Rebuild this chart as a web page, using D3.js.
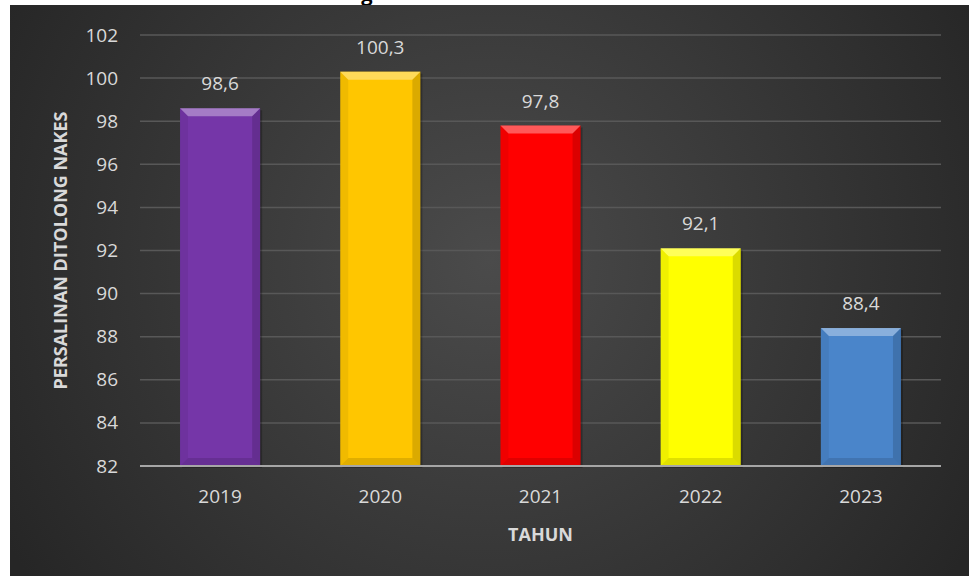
<!DOCTYPE html>
<html>
<head>
<meta charset="utf-8">
<script src="https://cdn.jsdelivr.net/npm/d3@7"></script>
<style>
  body { margin: 0; background: #fff; overflow: hidden; }
  svg { display: block; font-family: "Open Sans", sans-serif; }
</style>
</head>
<body>
<svg id="chart" width="969" height="576"></svg>
<script>
// data
const years = ['2019', '2020', '2021', '2022', '2023'];
const values = [98.6, 100.3, 97.8, 92.1, 88.4];
const barColors = ['#7536a8', '#ffc600', '#ff0000', '#ffff00', '#4a85ca'];
const yTicks = [82, 84, 86, 88, 90, 92, 94, 96, 98, 100, 102];

const svg = d3.select('#chart');
const width = +svg.attr('width');
const height = +svg.attr('height');

const margin = {top: 35, right: 28, bottom: 110, left: 140};

// background
const defs = svg.append('defs');
const bg = defs.append('radialGradient')
    .attr('id', 'bg-grad')
    .attr('gradientUnits', 'userSpaceOnUse')
    .attr('cx', 490).attr('cy', 260).attr('r', 560);
bg.append('stop').attr('offset', '0%').attr('stop-color', '#4b4b4b');
bg.append('stop').attr('offset', '100%').attr('stop-color', '#262626');

// tiny bit of the clipped title above the frame
svg.append('text')
    .attr('x', 367).attr('y', 1)
    .attr('text-anchor', 'middle')
    .style('font-size', '20px')
    .style('font-weight', 'bold')
    .attr('fill', '#000')
    .text('g');

svg.append('rect')
    .attr('x', 10).attr('y', 5)
    .attr('width', width - 10).attr('height', height - 5)
    .attr('fill', 'url(#bg-grad)');

const x = d3.scaleBand()
    .domain(years)
    .range([margin.left, 941])
    .paddingInner(0.5)
    .paddingOuter(0.25);

const y = d3.scaleLinear()
    .domain([82, 102])
    .range([466, margin.top]);

// gridlines
svg.append('g')
    .selectAll('line')
    .data(yTicks.filter(d => d !== 82))
    .join('line')
        .attr('x1', margin.left).attr('x2', 941)
        .attr('y1', d => y(d)).attr('y2', d => y(d))
        .attr('stroke', '#585858')
        .attr('stroke-width', 1.5);

// y axis labels
const yAxis = svg.append('g')
    .attr('transform', `translate(${margin.left},0)`)
    .call(d3.axisLeft(y).tickValues(yTicks).tickSize(0).tickPadding(22).tickFormat(d3.format('d')));
yAxis.select('.domain').remove();
yAxis.selectAll('text')
    .attr('fill', '#d9d9d9')
    .style('font-size', '19px')
    .style('font-family', '"Open Sans", sans-serif');

// bars with a bevel look
const bev = 8;
const bars = svg.append('g')
    .selectAll('g')
    .data(years.map((d, i) => ({year: d, value: values[i], color: barColors[i]})))
    .join('g');

bars.append('rect')
    .attr('x', d => x(d.year) + 2)
    .attr('y', d => y(d.value) + 2)
    .attr('width', x.bandwidth())
    .attr('height', d => y(82) - y(d.value))
    .attr('fill', '#000')
    .attr('opacity', 0.25);

bars.append('rect')
    .attr('x', d => x(d.year))
    .attr('y', d => y(d.value))
    .attr('width', x.bandwidth())
    .attr('height', d => y(82) - y(d.value))
    .attr('fill', d => d.color);

const bevel = (d, side) => {
    const x0 = x(d.year), x1 = x0 + x.bandwidth();
    const y0 = y(d.value), y1 = y(82);
    if (side === 'top') return [[x0, y0], [x1, y0], [x1 - bev, y0 + bev], [x0 + bev, y0 + bev]];
    if (side === 'left') return [[x0, y0], [x0 + bev, y0 + bev], [x0 + bev, y1 - bev], [x0, y1]];
    if (side === 'right') return [[x1, y0], [x1, y1], [x1 - bev, y1 - bev], [x1 - bev, y0 + bev]];
    return [[x0, y1], [x0 + bev, y1 - bev], [x1 - bev, y1 - bev], [x1, y1]];
};

[['top', '#fff', 0.35], ['left', '#000', 0.06], ['right', '#000', 0.14], ['bottom', '#000', 0.12]]
    .forEach(([side, col, op]) => {
        bars.append('polygon')
            .attr('points', d => bevel(d, side).map(p => p.join(',')).join(' '))
            .attr('fill', col)
            .attr('opacity', op);
    });

// value labels
bars.append('text')
    .attr('x', d => x(d.year) + x.bandwidth() / 2)
    .attr('y', d => y(d.value) - 18)
    .attr('text-anchor', 'middle')
    .attr('fill', '#d9d9d9')
    .style('font-size', '19px')
    .text(d => d3.format('.1f')(d.value).replace('.', ','));

// x baseline
svg.append('line')
    .attr('x1', margin.left).attr('x2', 941)
    .attr('y1', y(82)).attr('y2', y(82))
    .attr('stroke', '#a6a6a6')
    .attr('stroke-width', 2);

// x axis labels
const xAxis = svg.append('g')
    .attr('transform', `translate(0,${y(82)})`)
    .call(d3.axisBottom(x).tickSize(0).tickPadding(24));
xAxis.select('.domain').remove();
xAxis.selectAll('text')
    .attr('fill', '#d9d9d9')
    .style('font-size', '19px')
    .style('font-family', '"Open Sans", sans-serif');

// axis titles
svg.append('text')
    .attr('x', (margin.left + 941) / 2)
    .attr('y', 541)
    .attr('text-anchor', 'middle')
    .attr('fill', '#d9d9d9')
    .style('font-size', '18px')
    .style('font-weight', 'bold')
    .text('TAHUN');

svg.append('text')
    .attr('transform', `translate(67,${(y(82) + y(102)) / 2}) rotate(-90)`)
    .attr('text-anchor', 'middle')
    .attr('fill', '#d9d9d9')
    .style('font-size', '18px')
    .style('font-weight', 'bold')
    .text('PERSALINAN DITOLONG NAKES');
</script>
</body>
</html>
